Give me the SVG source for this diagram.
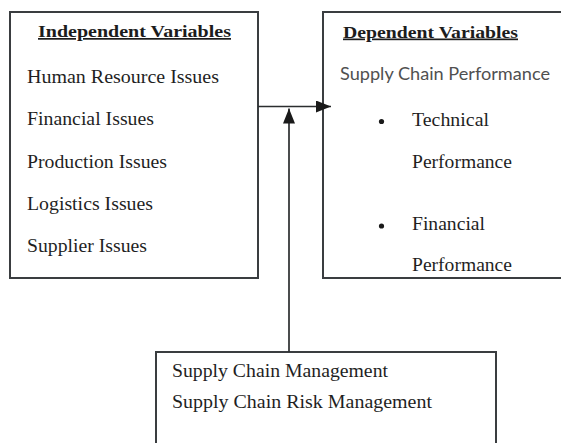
<svg xmlns="http://www.w3.org/2000/svg" width="561" height="443" viewBox="0 0 561 443">
  <defs>
    <style>
      .box { fill: #ffffff; stroke: #3a3d40; stroke-width: 2; }
      .conn { fill: none; stroke: #2b2d2f; stroke-width: 1.7; }
      .head { fill: #1a1a1a; }
      .t { font-family: "Liberation Serif", "Times New Roman", serif; font-size: 18px; fill: #1f1f1f; }
      .h { font-family: "Liberation Serif", "Times New Roman", serif; font-size: 17px; font-weight: bold; fill: #1c1c1c; text-decoration: underline; }
      .s { font-family: "Lato", "Open Sans", "Liberation Sans", sans-serif; font-size: 17px; fill: #505050; }
      .dot { fill: #1a1a1a; }
    </style>
    <marker id="arrow" viewBox="0 0 15 12" refX="15" refY="6" markerWidth="15" markerHeight="12" markerUnits="userSpaceOnUse" orient="auto">
      <path class="head" d="M0,0 L15,6 L0,12 Z"/>
    </marker>
  </defs>

  <rect width="561" height="443" fill="#ffffff"/>

  <!-- Independent variables -->
  <g id="independent">
    <rect class="box" x="10" y="12" width="248" height="266"/>
    <text class="h" x="38" y="37" textLength="193" lengthAdjust="spacingAndGlyphs">Independent Variables</text>
    <text class="t" x="27" y="83" textLength="192" lengthAdjust="spacingAndGlyphs">Human Resource Issues</text>
    <text class="t" x="27" y="125" textLength="127" lengthAdjust="spacingAndGlyphs">Financial Issues</text>
    <text class="t" x="27" y="168" textLength="140" lengthAdjust="spacingAndGlyphs">Production Issues</text>
    <text class="t" x="27" y="210" textLength="126" lengthAdjust="spacingAndGlyphs">Logistics Issues</text>
    <text class="t" x="27" y="252" textLength="120" lengthAdjust="spacingAndGlyphs">Supplier Issues</text>
  </g>

  <!-- Dependent variables -->
  <g id="dependent">
    <rect class="box" x="323" y="12" width="260" height="266"/>
    <text class="h" x="343" y="37.5" textLength="175" lengthAdjust="spacingAndGlyphs">Dependent Variables</text>
    <text class="s" x="340" y="80" textLength="210" lengthAdjust="spacingAndGlyphs">Supply Chain Performance</text>
    <circle class="dot" cx="381.5" cy="121.5" r="2.6"/>
    <text class="t" x="412" y="126" textLength="77" lengthAdjust="spacingAndGlyphs">Technical</text>
    <text class="t" x="412" y="168" textLength="100" lengthAdjust="spacingAndGlyphs">Performance</text>
    <circle class="dot" cx="381.5" cy="226" r="2.6"/>
    <text class="t" x="412" y="230" textLength="73" lengthAdjust="spacingAndGlyphs">Financial</text>
    <text class="t" x="412" y="271" textLength="100" lengthAdjust="spacingAndGlyphs">Performance</text>
  </g>

  <!-- Moderating variables -->
  <g id="management">
    <rect class="box" x="156" y="352" width="340" height="110"/>
    <text class="t" x="172" y="377" textLength="216" lengthAdjust="spacingAndGlyphs">Supply Chain Management</text>
    <text class="t" x="172" y="408" textLength="260" lengthAdjust="spacingAndGlyphs">Supply Chain Risk Management</text>
  </g>

  <!-- Connectors -->
  <g id="connectors">
    <line class="conn" x1="258" y1="106.5" x2="331" y2="106.5" marker-end="url(#arrow)"/>
    <line class="conn" x1="289" y1="352" x2="289" y2="108.5" marker-end="url(#arrow)"/>
  </g>
</svg>
